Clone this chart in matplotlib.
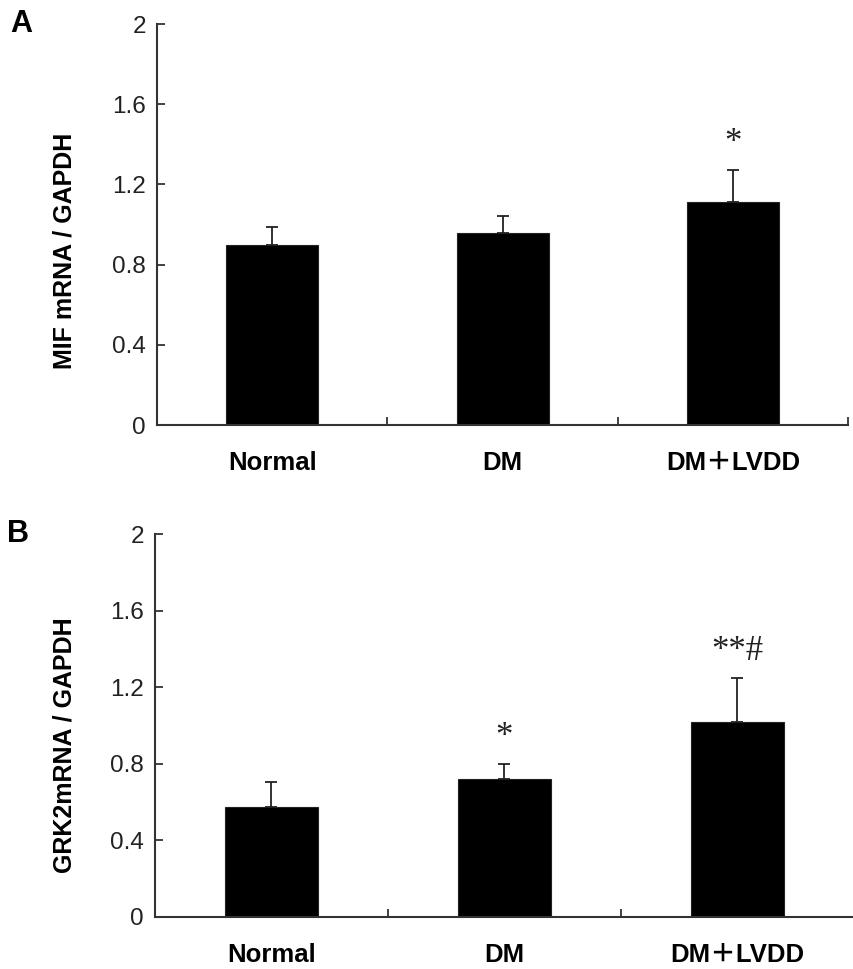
import matplotlib
matplotlib.use("Agg")
import matplotlib.pyplot as plt
import numpy as np

groups = ["Normal", "DM", "DM\uff0bLVDD"]

mif_mean = [0.90, 0.96, 1.11]
mif_err = [0.09, 0.08, 0.16]
mif_marks = ["", "", "*"]

grk2_mean = [0.575, 0.72, 1.02]
grk2_err = [0.13, 0.08, 0.23]
grk2_marks = ["", "*", "**#"]

plt.rcParams['font.family'] = ['Liberation Sans', 'Noto Sans CJK SC']

fig = plt.figure(figsize=(8.54, 9.69), dpi=100)
axA = fig.add_axes([0.184, 0.5614, 0.809, 0.4138])
axB = fig.add_axes([0.1815, 0.0537, 0.818, 0.3952])


def panel(ax, means, errs, marks, ylabel, letter, label_xy):
    x = np.arange(len(groups))
    ax.bar(x, means, width=0.4, color='black', edgecolor='#222222', linewidth=0.8, zorder=2)
    ax.errorbar(x, means, yerr=[np.zeros(len(errs)), errs], fmt='none',
                ecolor='#222222', elinewidth=1.3, capsize=4, capthick=1.3, zorder=1)
    for xi, m, e, s in zip(x, means, errs, marks):
        if s:
            ax.text(xi, m + e + 0.05, s, ha='center', va='bottom', fontsize=25,
                    family=['Liberation Serif'], color='#222222')
    ax.set_xlim(-0.5, 2.5)
    ax.set_ylim(0, 2)
    ax.set_yticks([0, 0.4, 0.8, 1.2, 1.6, 2])
    ax.set_yticklabels(["0", "0.4", "0.8", "1.2", "1.6", "2"])
    ax.set_xticks(x)
    ax.set_xticklabels(groups, fontweight='bold', fontsize=18.5)
    ax.set_xticks([0.5, 1.5, 2.5], minor=True)
    ax.tick_params(axis='x', which='major', length=0, pad=19)
    ax.tick_params(axis='x', which='minor', direction='in', length=6, width=1.3, color='#333333')
    ax.tick_params(axis='y', direction='in', length=6, width=1.3, color='#333333',
                   labelsize=17.5, pad=8, labelcolor='#222222')
    for sp in ['top', 'right']:
        ax.spines[sp].set_visible(False)
    for sp in ['left', 'bottom']:
        ax.spines[sp].set_linewidth(1.5)
        ax.spines[sp].set_color('#333333')
    ax.set_ylabel(ylabel, fontweight='bold', fontsize=18)
    ax.yaxis.set_label_coords(*label_xy)
    ax.text(-0.212, 1.0, letter, transform=ax.transAxes, fontsize=22, fontweight='bold',
            ha='left', va='center')


panel(axA, mif_mean, mif_err, mif_marks, "MIF mRNA / GAPDH", "A", (-0.117, 0.434))
panel(axB, grk2_mean, grk2_err, grk2_marks, "GRK2mRNA / GAPDH", "B", (-0.113, 0.449))

fig.savefig("out.png", dpi=100)
